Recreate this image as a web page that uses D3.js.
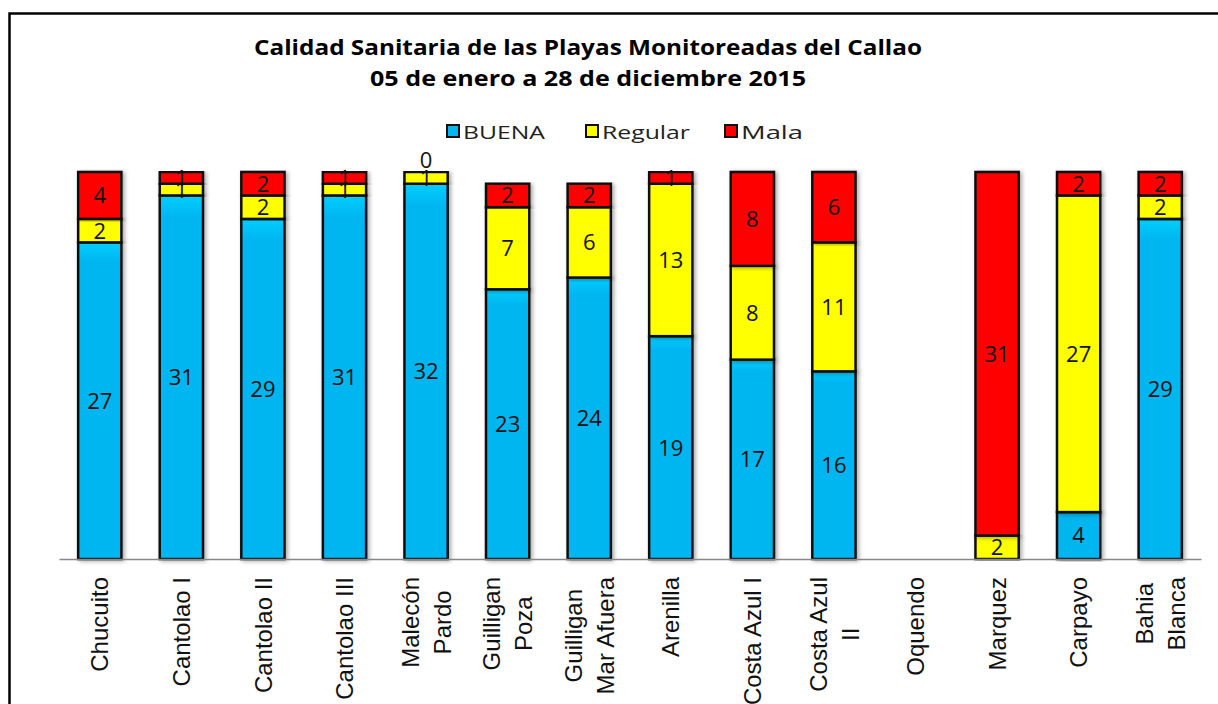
<!DOCTYPE html>
<html><head><meta charset="utf-8">
<script src="https://cdn.jsdelivr.net/npm/d3@7"></script>
<style>html,body{margin:0;padding:0;background:#fff;}svg{display:block;}</style>
</head><body>
<svg id="chart" width="1218" height="704"></svg>
<script>
const categories = ["Chucuito","Cantolao I","Cantolao II","Cantolao III","Malecón\nPardo","Guilligan\nPoza","Guilligan\nMar Afuera","Arenilla","Costa Azul I","Costa Azul\nII","Oquendo","Marquez","Carpayo","Bahia\nBlanca"];
const buena   = [27,31,29,31,32,23,24,19,17,16,null,null,4,29];
const regular = [2,1,2,1,1,7,6,13,8,11,null,2,27,2];
const mala    = [4,1,2,1,0,2,2,1,8,6,null,31,2,2];
const seriesNames = ["BUENA","Regular","Mala"];
const seriesColors = ["#05B6F0","#FFFF00","#FF0000"];
const titleLines = ["Calidad Sanitaria de las Playas Monitoreadas del Callao","05 de enero a 28 de diciembre 2015"];

const svg = d3.select("#chart");
const font = "'Open Sans', 'Noto Sans', sans-serif";
const catFont = "'Liberation Sans', Arial, sans-serif";

// frame
svg.append("rect").attr("x",9.5).attr("y",13.5).attr("width",1240).attr("height",720)
  .attr("fill","none").attr("stroke","#000").attr("stroke-width",2.5);

// defs: gradients for bevel look
const defs = svg.append("defs");
seriesColors.forEach((c,i)=>{
  const g = defs.append("linearGradient").attr("id","g"+i).attr("x1",0).attr("y1",0).attr("x2",0).attr("y2",1);
  g.append("stop").attr("offset","0").attr("stop-color",d3.color(c).brighter(0.35));
  g.append("stop").attr("offset","0.06").attr("stop-color",c);
  g.append("stop").attr("offset","1").attr("stop-color",c);
});
const f = defs.append("filter").attr("id","sh").attr("x","-20%").attr("y","-5%").attr("width","140%").attr("height","110%");
f.append("feDropShadow").attr("dx",2).attr("dy",1).attr("stdDeviation",2).attr("flood-color","#000").attr("flood-opacity",0.35);

const x = d3.scaleBand().domain(d3.range(categories.length)).range([59,1201]).paddingInner(0.47).paddingOuter(0.235);
const y = d3.scaleLinear().domain([0,33]).range([559,172]);

// title
svg.append("g").selectAll("text").data(titleLines).join("text")
  .attr("x",588).attr("y",(d,i)=>55+i*31).attr("text-anchor","middle")
  .attr("font-family",font).attr("font-weight","bold").attr("font-size",21)
  .attr("textLength",(d,i)=>i===0?668:436).attr("lengthAdjust","spacingAndGlyphs")
  .attr("fill","#000").text(d=>d);

// legend
const legendX = [447,586,725];
const legendW = [82,88,62];
const lg = svg.append("g");
seriesNames.forEach((n,i)=>{
  lg.append("rect").attr("x",legendX[i]).attr("y",125).attr("width",12).attr("height",12)
    .attr("fill",seriesColors[i]).attr("stroke","#111").attr("stroke-width",2);
  lg.append("text").attr("x",legendX[i]+16).attr("y",139).attr("font-family",font).attr("font-size",19)
    .attr("textLength",legendW[i]).attr("lengthAdjust","spacingAndGlyphs")
    .attr("fill","#222").text(n);
});

// stack
const rows = categories.map((c,i)=>({i, BUENA:buena[i]||0, Regular:regular[i]||0, Mala:mala[i]||0}));
const stack = d3.stack().keys(seriesNames)(rows);
const raw = [buena,regular,mala];

const bars = svg.append("g");
stack.forEach((layer,si)=>{
  bars.append("g").selectAll("rect").data(layer.filter(d=>d[1]-d[0]>0)).join("rect")
    .attr("x",d=>x(d.data.i)).attr("width",x.bandwidth())
    .attr("y",d=>y(d[1])).attr("height",d=>y(d[0])-y(d[1]))
    .attr("fill","url(#g"+si+")").attr("stroke","#111").attr("stroke-width",2.5)
    .attr("filter","url(#sh)");
});

// baseline axis
const axis = svg.append("g").attr("transform","translate(0,559)")
  .call(d3.axisBottom(x).tickSize(0).tickFormat(""));
axis.select(".domain").attr("stroke","#888").attr("stroke-width",1.5);

// value labels
const lbl = svg.append("g");
stack.forEach((layer,si)=>{
  layer.forEach(d=>{
    const v = raw[si][d.data.i];
    if (v===null || v===undefined) return;
    const cy = v===0 ? y(d[1]) - 12 : (y(d[0])+y(d[1]))/2;
    lbl.append("text").attr("x",x(d.data.i)+x.bandwidth()/2).attr("y",cy)
      .attr("dy","0.36em").attr("text-anchor","middle")
      .attr("font-family",font).attr("font-size",22).attr("fill","#111").text(v);
  });
});

// category labels (rotated, lines centred on each other)
const cl = svg.append("g");
categories.forEach((c,i)=>{
  const lines = c.split("\n");
  const cx = x(i)+x.bandwidth()/2;
  const t = cl.append("text").attr("font-family",catFont).attr("font-size",24).attr("fill","#111")
    .attr("text-anchor","middle");
  const spans = lines.map((ln,k)=>{
    const off = (k-(lines.length-1)/2)*32;
    return t.append("tspan").attr("x",0).attr("y",off).attr("dy","0.36em").text(ln);
  });
  const maxW = d3.max(spans, s=>s.node().getComputedTextLength());
  const centerY = 577 + maxW/2;
  t.attr("transform",`translate(${cx},${centerY}) rotate(-90)`);
});
</script>
</body></html>
